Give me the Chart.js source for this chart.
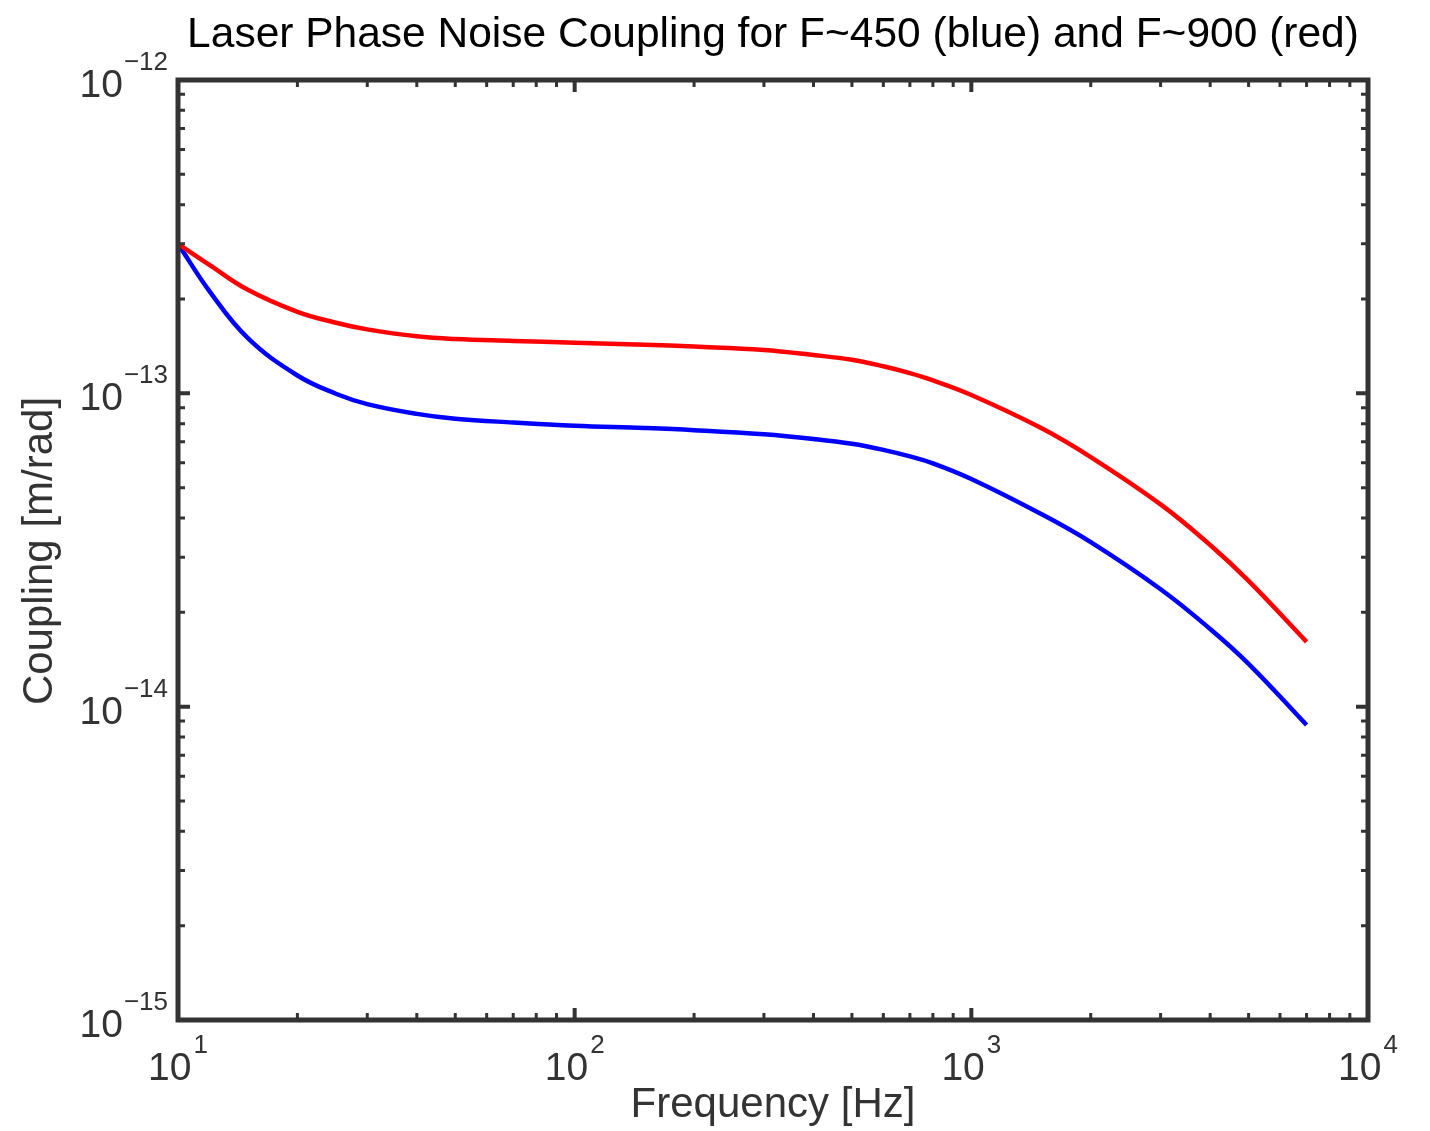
<!DOCTYPE html>
<html>
<head>
<meta charset="utf-8">
<script src="https://cdn.jsdelivr.net/npm/chart.js@4"></script>
<style>
  body { margin: 0; background: #fff; }
  #wrap { width: 1430px; height: 1131px; }
</style>
</head>
<body>
<div id="wrap"><canvas id="chart" width="1430" height="1131"></canvas></div>
<script>
// frequencies in Hz
const freqs = [10, 12, 15, 20, 25, 30, 40, 50, 70, 100, 150, 200, 300, 400, 500, 600, 700, 800, 1000, 1500, 2000, 3000, 4000, 5000, 7000];

// coupling for F~900 (red), m/rad
const redCoupling = [3.00e-13, 2.57e-13, 2.14e-13, 1.82e-13, 1.68e-13, 1.60e-13, 1.52e-13, 1.49e-13, 1.47e-13, 1.45e-13,
  1.43e-13, 1.41e-13, 1.375e-13, 1.325e-13, 1.28e-13, 1.22e-13, 1.16e-13, 1.10e-13, 9.88e-14,
  7.75e-14, 6.26e-14, 4.42e-14, 3.28e-14, 2.52e-14, 1.61e-14];

// coupling for F~450 (blue), m/rad
const blueCoupling = [3.00e-13, 2.12e-13, 1.50e-13, 1.14e-13, 9.97e-14, 9.24e-14, 8.60e-14, 8.30e-14, 8.07e-14, 7.88e-14,
  7.75e-14, 7.63e-14, 7.40e-14, 7.15e-14, 6.90e-14, 6.60e-14, 6.29e-14, 5.98e-14, 5.33e-14,
  4.12e-14, 3.35e-14, 2.37e-14, 1.77e-14, 1.37e-14, 8.74e-15];

const xDecades = [1, 2, 3, 4];        // 10^1 .. 10^4
const yDecades = [-12, -13, -14, -15]; // 10^-12 .. 10^-15

const titleText = "Laser Phase Noise Coupling for F~450 (blue) and F~900 (red)";
const xLabel = "Frequency [Hz]";
const yLabel = "Coupling [m/rad]";

const axisColor = "#333333";
const FONT = '"Liberation Sans", Arial, Helvetica, sans-serif';

function toPoints(ys) {
  return freqs.map((f, i) => ({ x: f, y: ys[i] }));
}

// MATLAB-like frame, inward ticks on all sides, 10^n labels and titles
const decor = {
  id: "decor",
  afterDatasetsDraw(chart) {
    const { ctx, chartArea: a, scales } = chart;
    const xs = scales.x, ys = scales.y;
    ctx.save();
    ctx.strokeStyle = axisColor;

    // ticks
    const tick = (px, horizontal, len, w) => {
      ctx.lineWidth = w;
      ctx.beginPath();
      if (horizontal) {
        ctx.moveTo(px, a.bottom); ctx.lineTo(px, a.bottom - len);
        ctx.moveTo(px, a.top); ctx.lineTo(px, a.top + len);
      } else {
        ctx.moveTo(a.left, px); ctx.lineTo(a.left + len, px);
        ctx.moveTo(a.right, px); ctx.lineTo(a.right - len, px);
      }
      ctx.stroke();
    };
    for (let d = 1; d <= 4; d++) {
      tick(xs.getPixelForValue(Math.pow(10, d)), true, 12, 4);
      if (d < 4) for (let m = 2; m <= 9; m++) tick(xs.getPixelForValue(m * Math.pow(10, d)), true, 7, 3);
    }
    for (let d = -15; d <= -12; d++) {
      tick(ys.getPixelForValue(Math.pow(10, d)), false, 12, 4);
      if (d < -12) for (let m = 2; m <= 9; m++) tick(ys.getPixelForValue(m * Math.pow(10, d)), false, 7, 3);
    }

    // frame
    ctx.lineWidth = 5;
    ctx.strokeRect(a.left, a.top, a.right - a.left, a.bottom - a.top);

    // tick labels
    ctx.fillStyle = axisColor;
    ctx.textBaseline = "alphabetic";
    const big = "39px " + FONT, small = "26px " + FONT;
    xDecades.forEach(d => {
      const px = xs.getPixelForValue(Math.pow(10, d));
      ctx.font = big; const w1 = ctx.measureText("10").width;
      ctx.font = small; const w2 = ctx.measureText(String(d)).width;
      const x0 = px - (w1 + w2 + 2) / 2;
      ctx.font = big; ctx.textAlign = "left"; ctx.fillText("10", x0, 1080);
      ctx.font = small; ctx.fillText(String(d), x0 + w1 + 2, 1053);
    });
    yDecades.forEach(d => {
      const py = ys.getPixelForValue(Math.pow(10, d));
      const sup = "\u2212" + String(-d);
      ctx.font = small; const w2 = ctx.measureText(sup).width;
      ctx.textAlign = "right";
      ctx.fillText(sup, 168, py - 10);
      ctx.font = big;
      ctx.fillText("10", 168 - w2 - 1, py + 17);
    });

    // title and axis titles
    ctx.textAlign = "center";
    ctx.font = "42.5px " + FONT;
    ctx.fillStyle = "#000";
    ctx.fillText(titleText, (a.left + a.right) / 2, 47);
    ctx.fillStyle = axisColor;
    ctx.font = "42px " + FONT;
    ctx.fillText(xLabel, (a.left + a.right) / 2, 1117);
    ctx.save();
    ctx.translate(52, 551);
    ctx.rotate(-Math.PI / 2);
    ctx.fillText(yLabel, 0, 0);
    ctx.restore();

    ctx.restore();
  }
};

new Chart(document.getElementById("chart"), {
  type: "line",
  data: {
    datasets: [
      {
        label: "F~900",
        data: toPoints(redCoupling),
        borderColor: "#ff0000",
        borderWidth: 4.5,
        pointRadius: 0,
        tension: 0.4,
        fill: false
      },
      {
        label: "F~450",
        data: toPoints(blueCoupling),
        borderColor: "#0000ff",
        borderWidth: 4.5,
        pointRadius: 0,
        tension: 0.4,
        fill: false
      }
    ]
  },
  options: {
    responsive: false,
    animation: false,
    layout: { padding: { left: 178, right: 62, top: 80, bottom: 111 } },
    plugins: { legend: { display: false }, tooltip: { enabled: false }, title: { display: false } },
    scales: {
      x: { type: "logarithmic", min: 10, max: 10000, display: false },
      y: { type: "logarithmic", min: 1e-15, max: 1e-12, display: false }
    }
  },
  plugins: [decor]
});
</script>
</body>
</html>
